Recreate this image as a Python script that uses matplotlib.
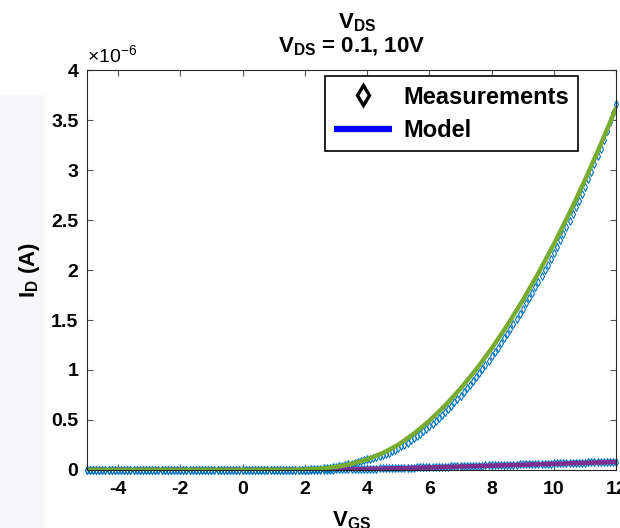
import numpy as np
import matplotlib
matplotlib.use('Agg')
import matplotlib.pyplot as plt
from matplotlib.lines import Line2D
from matplotlib.patches import Rectangle

plt.rcParams['font.family'] = ['Liberation Sans', 'DejaVu Sans']
plt.rcParams['mathtext.fontset'] = 'custom'
plt.rcParams['mathtext.rm'] = 'Liberation Sans'
plt.rcParams['mathtext.bf'] = 'Liberation Sans:bold'
plt.rcParams['mathtext.it'] = 'Liberation Sans:italic'

# model curves (1e-6 A), Vgs step 0.5 from -5 to 12
vgs_model = np.arange(-5, 12.01, 0.5)
model_vds10 = [0, 0, 0, 0, 0, 0, 0, 0, 0, 0, 0, 0, 0, 0,
               0.003, 0.012, 0.030, 0.060, 0.105, 0.168, 0.252, 0.362, 0.492, 0.643,
               0.814, 1.005, 1.216, 1.447, 1.698, 1.970, 2.261, 2.573, 2.904, 3.256, 3.628]
model_vds01 = [0, 0, 0, 0, 0, 0, 0, 0, 0, 0, 0, 0, 0, 0,
               0.000, 0.001, 0.003, 0.006, 0.009, 0.013, 0.017, 0.021, 0.025, 0.029,
               0.034, 0.038, 0.043, 0.047, 0.052, 0.056, 0.061, 0.066, 0.071, 0.075, 0.080]

# measurements (1e-6 A), Vgs step 0.1 from -5 to 12 (flat below 2 V)
vgs_meas = np.round(np.arange(-5, 12.001, 0.1), 2)
meas_off = [0.0] * 70
meas_vds10 = meas_off + [
    0.002, 0.003, 0.005, 0.007, 0.009, 0.012, 0.015, 0.019, 0.023, 0.028,
    0.033, 0.038, 0.044, 0.050, 0.057, 0.064, 0.071, 0.079, 0.087, 0.096,
    0.105, 0.112, 0.120, 0.128, 0.138, 0.148, 0.160, 0.173, 0.187, 0.202,
    0.217, 0.235, 0.254, 0.274, 0.295, 0.317, 0.339, 0.363, 0.387, 0.412,
    0.437, 0.464, 0.492, 0.520, 0.550, 0.580, 0.612, 0.643, 0.676, 0.709,
    0.744, 0.780, 0.816, 0.853, 0.891, 0.930, 0.970, 1.010, 1.051, 1.093,
    1.136, 1.181, 1.225, 1.271, 1.317, 1.365, 1.413, 1.462, 1.512, 1.563,
    1.613, 1.666, 1.719, 1.773, 1.827, 1.883, 1.938, 1.996, 2.053, 2.112,
    2.171, 2.234, 2.297, 2.362, 2.427, 2.493, 2.560, 2.627, 2.695, 2.765,
    2.834, 2.909, 2.985, 3.061, 3.138, 3.216, 3.303, 3.391, 3.479, 3.568,
    3.658]
meas_vds01 = meas_off + [
    0.000, 0.000, 0.001, 0.001, 0.001, 0.002, 0.002, 0.003, 0.003, 0.004,
    0.005, 0.005, 0.006, 0.007, 0.007, 0.008, 0.009, 0.009, 0.010, 0.011,
    0.012, 0.013, 0.013, 0.014, 0.015, 0.016, 0.017, 0.017, 0.018, 0.019,
    0.020, 0.021, 0.022, 0.022, 0.023, 0.024, 0.025, 0.026, 0.027, 0.028,
    0.029, 0.029, 0.030, 0.031, 0.032, 0.033, 0.034, 0.035, 0.036, 0.037,
    0.038, 0.038, 0.039, 0.040, 0.041, 0.042, 0.043, 0.044, 0.045, 0.046,
    0.047, 0.047, 0.048, 0.049, 0.050, 0.051, 0.052, 0.053, 0.054, 0.055,
    0.056, 0.056, 0.057, 0.058, 0.059, 0.060, 0.061, 0.062, 0.063, 0.064,
    0.065, 0.066, 0.067, 0.068, 0.069, 0.070, 0.071, 0.071, 0.072, 0.073,
    0.074, 0.075, 0.076, 0.077, 0.078, 0.079, 0.080, 0.081, 0.082, 0.083,
    0.084]

x_ticks = [-4, -2, 0, 2, 4, 6, 8, 10, 12]
y_ticks = [0, 0.5, 1, 1.5, 2, 2.5, 3, 3.5, 4]

fig = plt.figure(figsize=(6.2, 5.28), dpi=100)
# faint grey strip of the screenshot background on the left
fig.patches.append(Rectangle((0, 0), 0.072, 0.82, transform=fig.transFigure,
                             facecolor='#f7f7f9', edgecolor='none', zorder=-1))
ax = fig.add_axes([0.140, 0.110, 0.854, 0.757])

meas_kw = dict(linestyle='none', marker='d', markersize=4, markerfacecolor='none',
               markeredgecolor='#0072BD', markeredgewidth=0.8, clip_on=False)
ax.plot(vgs_meas, meas_vds01, **meas_kw)
ax.plot(vgs_meas, meas_vds10, **meas_kw)
ax.plot(vgs_model, model_vds01, color='#7E2F8E', lw=3.2, solid_capstyle='butt')
ax.plot(vgs_model, model_vds10, color='#77AC30', lw=3.2, solid_capstyle='butt')

ax.set_xlim(-5, 12)
ax.set_ylim(0, 4)
ax.set_xticks(x_ticks)
ax.set_yticks(y_ticks)
ax.set_xticklabels([str(t) for t in x_ticks], fontsize=14, fontweight='bold')
ax.set_yticklabels(['%g' % t for t in y_ticks], fontsize=14, fontweight='bold')
ax.tick_params(direction='in', length=4, width=0.8, color='#555555',
               top=True, right=True, pad=6)
ax.tick_params(axis='x', pad=8)
for s in ax.spines.values():
    s.set_color('#262626')
    s.set_linewidth(0.8)

ax.text(0.0, 1.02, r'$\times$10$^{\mathregular{-6}}$', transform=ax.transAxes,
        fontsize=14, ha='left', va='baseline')
ax.set_ylabel(r'$\mathbf{I_D}$ $\mathbf{(A)}$', fontsize=16)
ax.yaxis.set_label_coords(-0.085, 0.5)
ax.text(0.5, -0.142, r'$\mathbf{V_{GS}}$', transform=ax.transAxes,
        fontsize=16, ha='center', va='baseline')
# two-line title
ax.text(0.51, 1.105, r'$\mathbf{V_{DS}}$', transform=ax.transAxes,
        fontsize=16, ha='center', va='baseline')
ax.text(0.5, 1.045, r'$\mathbf{V_{DS}}$ = 0.1, 10V', transform=ax.transAxes,
        fontsize=16, fontweight='bold', ha='center', va='baseline')

handles = [Line2D([], [], linestyle='none', marker='d', markersize=10,
                  markerfacecolor='white', markeredgecolor='black', markeredgewidth=2.4),
           Line2D([], [], color='#0000FF', lw=4.5, solid_capstyle='butt')]
leg = ax.legend(handles, ['Measurements', 'Model'], loc='upper right',
                bbox_to_anchor=(0.928, 0.985), fancybox=False, framealpha=1,
                edgecolor='black', handlelength=2.45, handletextpad=0.45,
                borderpad=0.4, labelspacing=0.44, borderaxespad=0,
                prop={'family': 'Liberation Sans', 'weight': 'bold', 'size': 17})
leg.get_frame().set_linewidth(1.2)

fig.savefig('out.png', dpi=100)
